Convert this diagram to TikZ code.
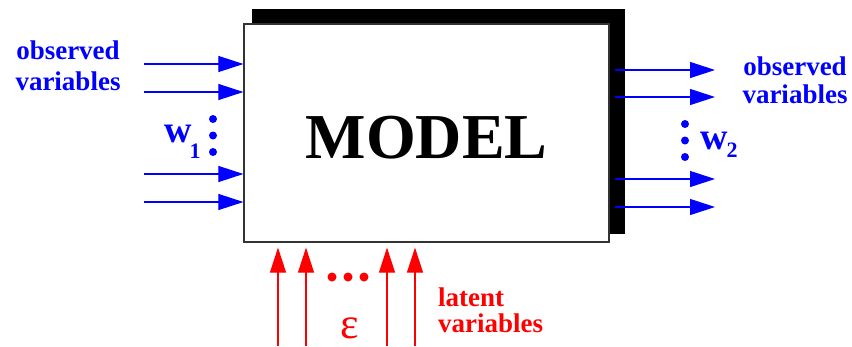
\documentclass[tikz,border=0pt]{standalone}
\usepackage{fontspec}
\setmainfont{Liberation Serif}
\usetikzlibrary{arrows.meta}
\begin{document}
\begin{tikzpicture}[x=1pt,y=-1pt,
  lbl/.style={font=\fontsize{27}{#1}\selectfont\bfseries, inner sep=0pt},
  lbl/.default=30,
  inarrow/.style={draw=blue, line width=1.1pt, -{Triangle[length=25pt,width=16pt]}},
  outarrow/.style={draw=blue, line width=1.1pt, -{Triangle[length=25pt,width=16pt]}},
  latarrow/.style={draw=red, line width=1.1pt, -{Triangle[length=25pt,width=16pt]}},
  bdot/.style={circle, fill=blue, inner sep=0pt, minimum size=8pt},
  rdot/.style={circle, fill=red, inner sep=0pt, minimum size=9pt}
]
\useasboundingbox (0,0) rectangle (852,346);
% shadow
\fill[black] (252,9) rectangle (625,234);
% model box
\node[draw=black!80, fill=white, line width=1.2pt, minimum width=365pt, minimum height=218pt,
      inner sep=0pt, text height=51pt, text depth=0pt,
      font=\fontsize{64}{70}\selectfont\bfseries] (model) at (426.5,133) {MODEL};

% left inputs
\foreach \i/\y in {1/64,2/92,3/174,4/202}{
  \coordinate (l\i) at (144,\y);
  \draw[inarrow] (l\i) -- (l\i -| model.west);
}
% right outputs
\foreach \i/\y in {1/70,2/97,3/179,4/207}{
  \coordinate (r\i) at (715,\y);
  \coordinate (rs\i) at (615,\y);
  \draw[outarrow] (rs\i) -- (r\i);
}
% latent inputs
\foreach \i/\x in {1/278,2/306,3/387,4/415}{
  \coordinate (e\i) at (\x,346);
  \draw[latarrow] (e\i) -- ([yshift=-5pt]model.south -| e\i);
}

% dots
\node[bdot] (ld1) at (213,119) {};
\node[bdot] (ld2) at (213,135.5) {};
\node[bdot] (ld3) at (213,152) {};
\node[bdot] (rd1) at (685,124) {};
\node[bdot] (rd2) at (685,140.5) {};
\node[bdot] (rd3) at (685,157) {};
\node[rdot] (ed1) at (332,277) {};
\node[rdot] (ed2) at (348,277) {};
\node[rdot] (ed3) at (364,277) {};

% labels
\node[lbl=31, text=blue, align=center, anchor=north] (obsL) at (68,40.7) {observed\\variables};
\node[lbl=28, text=blue, align=center, anchor=north] (obsR) at (795,56.7) {observed\\variables};
\node[lbl=26, text=red, align=left, anchor=north west] (lat) at (438,287.7) {latent\\variables};

\node[inner sep=0pt, anchor=base, text=blue, font=\fontsize{38}{40}\selectfont\bfseries] (w1) at (178,142) {w};
\node[inner sep=0pt, anchor=base, text=blue, font=\fontsize{22}{24}\selectfont\bfseries] (s1) at (195,158) {1};
\node[inner sep=0pt, anchor=base, text=blue, font=\fontsize{38}{40}\selectfont\bfseries] (w2) at (714,149) {w};
\node[inner sep=0pt, anchor=base, text=blue, font=\fontsize{22}{24}\selectfont\bfseries] (s2) at (732,157) {2};
\node[inner sep=0pt, anchor=base, text=red, font=\fontsize{44}{46}\selectfont] (eps) at (349.5,338) {ε};
\end{tikzpicture}
\end{document}
